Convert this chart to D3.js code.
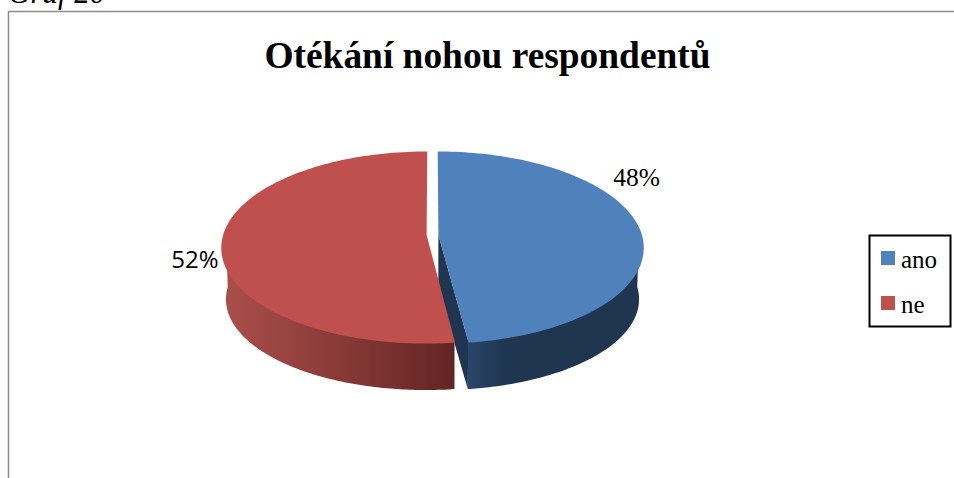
<!DOCTYPE html>
<html lang="cs">
<head>
<meta charset="utf-8">
<style>
  html, body { margin: 0; padding: 0; background: #fff; }
  svg { display: block; }
  text { font-family: "Liberation Serif", serif; fill: #000; }
</style>
<script src="https://cdn.jsdelivr.net/npm/d3@7"></script>
</head>
<body>
<svg id="chart" width="954" height="478"></svg>
<script>
const categories = ["ano", "ne"];
const shares = [48, 52];
const shareLabels = ["48%", "52%"];
const topColors = ["#4f81bd", "#c0504d"];
const titleText = "Otékání nohou respondentů";
const captionText = "Graf 20";

const svg = d3.select("#chart");
const defs = svg.append("defs");

// Tilted pie: each plane point is foreshortened by its depth on the plate.
const centerX = 432.5, explode = 0.029, tilt = 0.1304;
const planes = {
  top: { cy: 235, rx: 203.5, ry: 94.4 },
  bottom: { cy: 287, rx: 199, ry: 89.6 }
};
const project = (plane, angle, radius, shift) => {
  const u = Math.sin(angle) * radius + shift, v = Math.cos(angle) * radius;
  const w = 1 + tilt * v;
  return [centerX + plane.rx * u / w, plane.cy - plane.ry * v / w];
};

const slices = d3.pie().sort(null).value(d => d)(shares).map((s, i) => {
  const mid = (s.startAngle + s.endAngle) / 2;
  return { ...s, i, shift: explode * Math.sign(Math.sin(mid)) };
});

const arcPoints = (plane, s, from, to, radius = 1) =>
  d3.range(0, 121).map(k => project(plane, from + (to - from) * k / 120, radius, s.shift));
const line = d3.line();

// Side gradients darken toward the front edge of each slice.
const wallGradients = [
  [["0%", "#2b4669"], ["22%", "#1f3550"], ["100%", "#1f3550"]],
  [["0%", "#aa4f4b"], ["45%", "#8c3c39"], ["100%", "#622523"]]
];
wallGradients.forEach((stops, i) => {
  const g = defs.append("linearGradient").attr("id", "wall" + i);
  stops.forEach(([o, c]) => g.append("stop").attr("offset", o).attr("stop-color", c));
});

// Cut face of the blue slice, visible through the gap.
const blue = slices[0];
const hub = plane => project(plane, 0, 0, blue.shift);
svg.append("path")
  .attr("d", line([
    hub(planes.top),
    project(planes.top, blue.endAngle, 0.99, blue.shift),
    project(planes.bottom, blue.endAngle, 1, blue.shift),
    hub(planes.bottom)
  ]) + "Z")
  .attr("fill", "#1f3550");

// Outer walls, restricted to the part of the rim facing the viewer.
// The upper edge tucks slightly under the top face so no seam shows.
slices.forEach(s => {
  const from = Math.max(s.startAngle, Math.PI / 2);
  const to = Math.min(s.endAngle, Math.PI * 1.5);
  const a = arcPoints(planes.top, s, from, to, 0.985);
  const b = arcPoints(planes.bottom, s, from, to).reverse();
  svg.append("path")
    .attr("d", line(a.concat(b)) + "Z")
    .attr("fill", `url(#wall${s.i})`);
});

// Top faces.
slices.forEach(s => {
  const a = arcPoints(planes.top, s, s.startAngle, s.endAngle);
  svg.append("path")
    .attr("d", line([project(planes.top, 0, 0, s.shift), ...a]) + "Z")
    .attr("fill", topColors[s.i]);
});

// Chart frame, open on the right and bottom.
svg.append("path")
  .attr("d", "M8.5,478V11.5H954")
  .attr("fill", "none")
  .attr("stroke", "#8c8c8c")
  .attr("stroke-width", 1.5);

svg.append("text")
  .attr("x", 8).attr("y", 3)
  .attr("font-size", 31).attr("font-style", "italic")
  .text(captionText);

svg.append("text")
  .attr("x", 487.5).attr("y", 68)
  .attr("text-anchor", "middle")
  .attr("font-size", 37.4).attr("font-weight", "bold")
  .text(titleText);

svg.append("text")
  .attr("x", 636.5).attr("y", 186)
  .attr("text-anchor", "middle")
  .attr("font-size", 25.5)
  .text(shareLabels[0]);

svg.append("text")
  .attr("x", 195).attr("y", 268)
  .attr("text-anchor", "middle")
  .attr("font-size", 24)
  .style("font-family", "'Open Sans', sans-serif")
  .text(shareLabels[1]);

// Legend.
const legend = svg.append("g");
legend.append("rect")
  .attr("x", 869.5).attr("y", 235.5)
  .attr("width", 81).attr("height", 91)
  .attr("fill", "#fff").attr("stroke", "#000").attr("stroke-width", 2);
const rowY = d3.scalePoint().domain(categories).range([258, 303]);
categories.forEach((c, i) => {
  legend.append("rect")
    .attr("x", 881).attr("y", rowY(c) - 7)
    .attr("width", 14).attr("height", 14)
    .attr("fill", topColors[i]);
  legend.append("text")
    .attr("x", 901).attr("y", rowY(c) + 10)
    .attr("font-size", 25)
    .text(c);
});
</script>
</body>
</html>
